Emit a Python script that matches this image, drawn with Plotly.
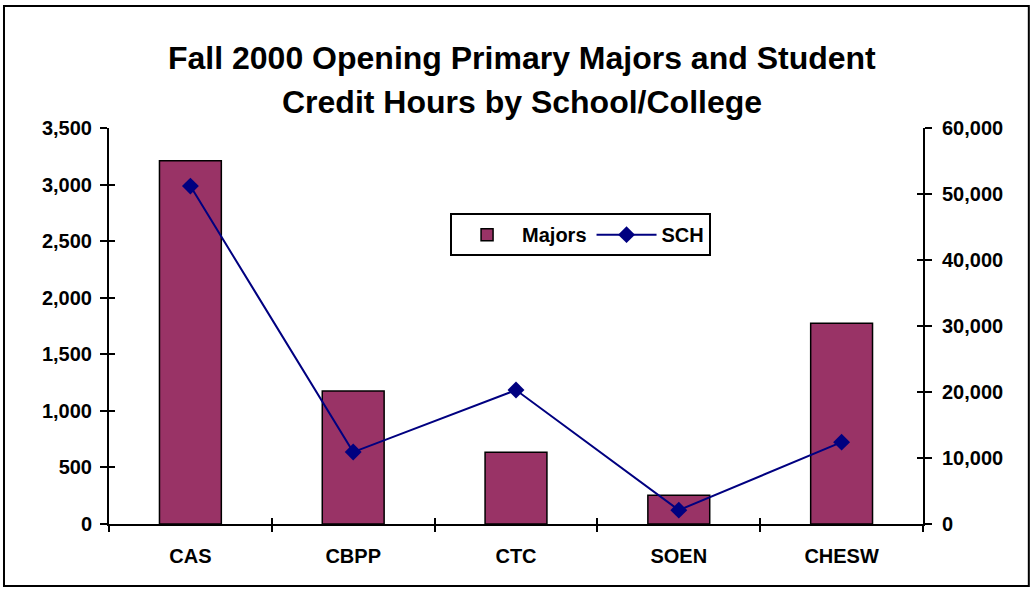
import plotly.graph_objects as go

schools = ["CAS", "CBPP", "CTC", "SOEN", "CHESW"]
majors = [3210, 1175, 635, 255, 1775]
sch = [51200, 10900, 20300, 2100, 12400]

left_ticks = [0, 500, 1000, 1500, 2000, 2500, 3000, 3500]
right_ticks = [0, 10000, 20000, 30000, 40000, 50000, 60000]
cat_bounds = [-0.5, 0.5, 1.5, 2.5, 3.5, 4.5]

FONT = "Liberation Sans, Arial, sans-serif"
TICKFONT = dict(family=FONT, size=20, weight="bold", color="black")

fig = go.Figure()
fig.add_trace(go.Bar(
    x=schools, y=majors, name="Majors",
    marker=dict(color="#993366", line=dict(color="black", width=1.5)),
    yaxis="y",
))
fig.add_trace(go.Scatter(
    x=schools, y=sch, name="SCH", mode="lines+markers",
    line=dict(color="#000080", width=2),
    marker=dict(symbol="diamond", size=13, color="#000080"),
    yaxis="y2",
))
# empty helper traces so the tick-only overlay axes get drawn (crossing ticks)
for xa, ya in [("x2", "y"), ("x", "y3"), ("x", "y4")]:
    fig.add_trace(go.Scatter(x=[], y=[], xaxis=xa, yaxis=ya, showlegend=False,
                             hoverinfo="skip", mode="markers"))

fig.update_layout(
    width=1032, height=589,
    margin=dict(l=109, r=109, t=128, b=65),
    paper_bgcolor="white", plot_bgcolor="white",
    font=dict(family=FONT, color="black", size=20),
    bargap=0.62,
    showlegend=True,
    legend=dict(
        orientation="h", x=0.419, y=0.785, xanchor="left", yanchor="top",
        bordercolor="black", borderwidth=2, bgcolor="white",
        font=dict(family=FONT, size=20, color="black", weight="bold"),
        itemwidth=60,
    ),
    xaxis=dict(
        showline=True, linecolor="black", linewidth=2,
        ticks="outside", ticklen=6, tickwidth=2, tickcolor="black",
        tickson="boundaries",
        tickfont=TICKFONT,
        ticklabelstandoff=13,
        showgrid=False, zeroline=False,
    ),
    xaxis2=dict(
        overlaying="x", range=[-0.5, 4.5], tickvals=cat_bounds,
        showticklabels=False, showline=False, showgrid=False, zeroline=False,
        ticks="inside", ticklen=6, tickwidth=2, tickcolor="black",
        anchor="y", side="bottom",
    ),
    yaxis=dict(
        range=[0, 3500], tickvals=left_ticks, tickformat=",",
        showline=True, linecolor="black", linewidth=2,
        ticks="outside", ticklen=7, tickwidth=2, tickcolor="black",
        tickfont=TICKFONT,
        ticklabelstandoff=4,
        showgrid=False, zeroline=False,
    ),
    yaxis3=dict(
        range=[0, 3500], tickvals=left_ticks, overlaying="y", side="left",
        anchor="x", showticklabels=False, showline=False, showgrid=False,
        zeroline=False, ticks="inside", ticklen=6, tickwidth=2, tickcolor="black",
    ),
    yaxis2=dict(
        range=[0, 60000], tickvals=right_ticks, tickformat=",",
        overlaying="y", side="right",
        showline=True, linecolor="black", linewidth=2,
        ticks="outside", ticklen=7, tickwidth=2, tickcolor="black",
        tickfont=TICKFONT,
        ticklabelstandoff=6,
        showgrid=False, zeroline=False,
    ),
    yaxis4=dict(
        range=[0, 60000], tickvals=right_ticks, overlaying="y", side="right",
        anchor="x", showticklabels=False, showline=False, showgrid=False,
        zeroline=False, ticks="inside", ticklen=6, tickwidth=2, tickcolor="black",
    ),
    annotations=[
        dict(text="Fall 2000 Opening Primary Majors and Student",
             xref="paper", yref="paper", x=0.507, y=1.177,
             xanchor="center", yanchor="middle", showarrow=False,
             font=dict(family=FONT, size=32, weight="bold", color="black")),
        dict(text="Credit Hours by School/College",
             xref="paper", yref="paper", x=0.507, y=1.065,
             xanchor="center", yanchor="middle", showarrow=False,
             font=dict(family=FONT, size=32, weight="bold", color="black")),
    ],
    shapes=[
        dict(type="rect", xref="paper", yref="paper",
             x0=-0.129, x1=1.130, y0=-0.1566, y1=1.308,
             line=dict(color="black", width=2), fillcolor="rgba(0,0,0,0)"),
    ],
)

fig.write_html("out.html", config={"displayModeBar": False},
               post_script="document.body.style.margin='0';document.body.style.overflow='hidden';")
